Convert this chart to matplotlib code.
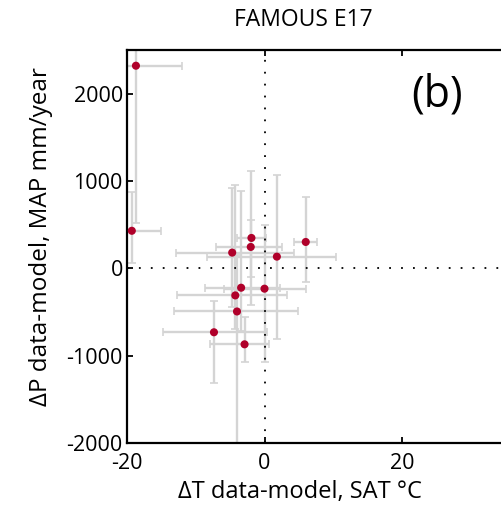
import matplotlib
matplotlib.use("Agg")
import matplotlib.pyplot as plt
import numpy as np

plt.rcParams['font.family'] = ['Open Sans', 'DejaVu Sans']
plt.rcParams['axes.unicode_minus'] = False

# Site-by-site anomalies (data minus model) with uncertainty ranges
dT = [-18.7, -19.3, -4.7, -1.9, -2.0, 1.8, 6.0, -3.4, 0.0, -4.25, -4.0, -7.35, -2.9]
dT_lo = [-21.0, -21.0, -12.9, -4.0, -7.0, -8.3, 4.3, -8.6, -5.9, -12.7, -13.1, -14.7, -7.9]
dT_hi = [-12.0, -15.1, 4.3, 0.2, 2.6, 10.4, 7.6, 2.2, 6.1, 3.3, 4.8, 0.3, 0.6]

dP = [2320, 430, 180, 348, 245, 134, 302, -222, -233, -310, -494, -732, -870]
dP_lo = [517, 61, -445, -100, -425, -808, -157, -713, -1077, -700, -2100, -1318, -1077]
dP_hi = [2700, 873, 923, 1110, 552, 1069, 812, 885, 494, 954, 150, -379, -560]

x_ticks = [-20, 0, 20]
y_ticks = [-2000, -1000, 0, 1000, 2000]

dT = np.array(dT); dP = np.array(dP)
xerr = np.vstack([dT - np.array(dT_lo), np.array(dT_hi) - dT])
yerr = np.vstack([dP - np.array(dP_lo), np.array(dP_hi) - dP])

W, H = 502, 517
fig = plt.figure(figsize=(W / 100, H / 100), dpi=100)
ax = fig.add_axes([127 / W, 74 / H, 412.5 / W, 393 / H])

ax.errorbar(dT, dP, xerr=xerr, yerr=yerr, fmt='none', ecolor='#d4d4d4',
            elinewidth=1.7, capsize=3, capthick=1.2, zorder=2)
ax.axvline(0, color='black', lw=1.3, ls=(0, (1, 5.6)), zorder=3)
ax.axhline(0, color='black', lw=1.3, ls=(0, (1, 5.6)), zorder=3)
ax.scatter(dT, dP, s=34, color='#b0002a', edgecolors='none', zorder=4)

ax.set_xlim(-20, 40)
ax.set_ylim(-2000, 2500)
ax.set_xticks(x_ticks)
ax.set_yticks(y_ticks)
ax.tick_params(direction='in', length=4, width=1.3, labelsize=15.5,
               top=True, right=True)
ax.tick_params(axis='x', pad=7)
ax.tick_params(axis='y', pad=3)
for s in ax.spines.values():
    s.set_linewidth(1.6)

ax.set_xlabel('ΔT data-model, SAT °C', fontsize=17)
ax.set_ylabel('ΔP data-model, MAP mm/year', fontsize=17.5)
ax.xaxis.set_label_coords(300 / W, 37 / H, transform=fig.transFigure)
ax.yaxis.set_label_coords(53 / W, 1 - 237 / H, transform=fig.transFigure)
fig.text(303.5 / W, 1 - 20 / H, 'FAMOUS E17', ha='center', va='center',
         fontsize=16.5)
fig.text(437 / W, 1 - 95 / H, '(b)', fontsize=31, ha='center', va='center')

fig.savefig('out.png', dpi=100)
